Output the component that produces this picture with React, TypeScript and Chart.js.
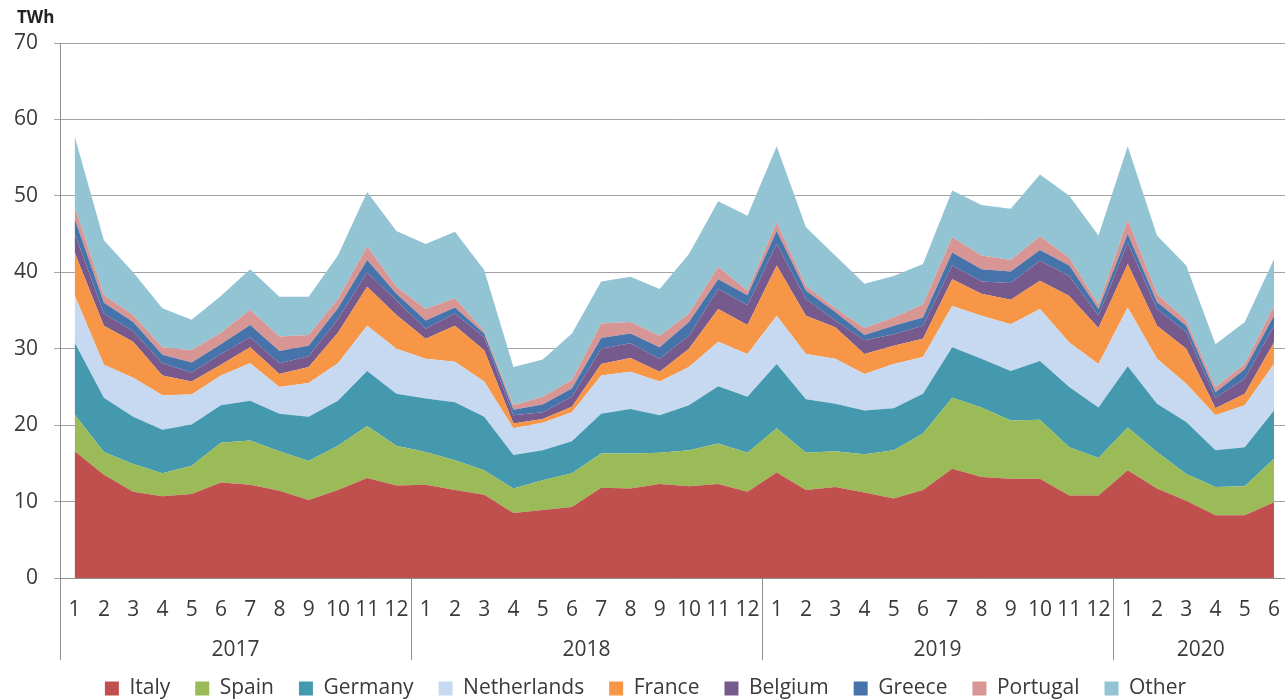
import React, { useEffect, useRef } from "react";
import { Chart, registerables } from "chart.js";

Chart.register(...registerables);

const monthLabels = [
  "1","2","3","4","5","6","7","8","9","10","11","12",
  "1","2","3","4","5","6","7","8","9","10","11","12",
  "1","2","3","4","5","6","7","8","9","10","11","12",
  "1","2","3","4","5","6",
];
const years = ["2017", "2018", "2019", "2020"];
const monthsPerYear = [12, 12, 12, 6];
const yTicks = [0, 10, 20, 30, 40, 50, 60, 70];
const unitLabel = "TWh";

const italy = [
  16.6, 13.5, 11.3, 10.7, 11.0, 12.5, 12.2, 11.4, 10.2, 11.5, 13.1, 12.1,
  12.2, 11.5, 10.9, 8.5, 8.9, 9.3, 11.8, 11.7, 12.3, 12.0, 12.3, 11.3,
  13.8, 11.5, 11.9, 11.2, 10.4, 11.5, 14.3, 13.2, 13.0, 13.0, 10.8, 10.8,
  14.1, 11.7, 10.1, 8.2, 8.2, 9.9,
];
const spain = [
  4.8, 3.0, 3.6, 3.0, 3.7, 5.2, 5.8, 5.2, 5.1, 5.8, 6.8, 5.2,
  4.3, 3.9, 3.2, 3.2, 3.9, 4.4, 4.5, 4.6, 4.1, 4.7, 5.3, 5.1,
  5.8, 4.9, 4.7, 5.0, 6.3, 7.4, 9.3, 9.1, 7.6, 7.7, 6.3, 4.9,
  5.6, 4.8, 3.5, 3.7, 3.8, 5.7,
];
const germany = [
  9.4, 7.1, 6.2, 5.7, 5.4, 4.9, 5.2, 4.9, 5.8, 5.9, 7.2, 6.8,
  7.0, 7.6, 7.0, 4.4, 3.9, 4.2, 5.2, 5.8, 4.9, 5.9, 7.5, 7.3,
  8.4, 7.0, 6.2, 5.7, 5.5, 5.2, 6.6, 6.4, 6.5, 7.7, 7.9, 6.6,
  8.0, 6.3, 6.8, 4.8, 5.1, 6.3,
];
const netherlands = [
  6.2, 4.3, 5.1, 4.5, 3.9, 3.9, 4.9, 3.5, 4.4, 4.9, 5.9, 5.9,
  5.2, 5.3, 4.6, 3.5, 3.6, 3.8, 5.0, 4.9, 4.4, 5.0, 5.8, 5.6,
  6.3, 5.9, 5.9, 4.8, 5.8, 4.8, 5.4, 5.6, 6.1, 6.8, 5.8, 5.7,
  7.7, 5.9, 5.0, 4.6, 5.5, 6.1,
];
const france = [
  5.6, 5.1, 4.7, 2.6, 1.7, 1.4, 2.1, 1.7, 2.1, 4.0, 5.1, 4.4,
  2.6, 4.7, 4.1, 0.6, 0.5, 0.7, 1.5, 1.8, 1.3, 2.4, 4.3, 3.8,
  6.6, 5.0, 4.1, 2.6, 2.4, 2.4, 3.5, 2.9, 3.2, 3.7, 6.1, 4.7,
  5.7, 4.3, 4.6, 0.9, 1.5, 2.8,
];
const belgium = [
  2.5, 1.6, 1.4, 1.6, 1.2, 1.4, 1.3, 1.4, 1.4, 1.8, 1.9, 1.9,
  1.3, 1.6, 1.7, 1.1, 0.9, 1.3, 2.0, 1.9, 1.7, 1.7, 2.6, 2.6,
  2.8, 2.2, 0.9, 1.8, 1.5, 1.7, 1.8, 1.6, 2.2, 2.6, 2.6, 1.6,
  2.8, 2.2, 2.2, 1.4, 2.0, 2.2,
];
const greece = [
  1.9, 1.4, 1.2, 1.1, 1.3, 1.3, 1.6, 1.6, 1.4, 1.4, 1.6, 0.9,
  1.1, 0.8, 0.5, 0.7, 1.0, 1.1, 1.4, 1.3, 1.5, 1.8, 1.3, 1.3,
  1.7, 1.1, 1.1, 0.7, 1.1, 1.1, 1.7, 1.6, 1.5, 1.4, 1.4, 0.9,
  1.1, 0.9, 0.8, 0.7, 1.2, 1.3,
];
const portugal = [
  1.6, 1.0, 0.9, 1.0, 1.6, 1.5, 2.0, 1.9, 1.4, 1.2, 1.8, 0.9,
  1.5, 1.2, 0.3, 0.6, 1.0, 1.1, 1.9, 1.5, 1.5, 1.1, 1.6, 0.6,
  1.1, 0.6, 0.5, 0.9, 1.1, 1.7, 2.0, 1.8, 1.5, 1.8, 1.0, 0.6,
  1.9, 1.1, 0.7, 0.7, 0.7, 1.3,
];
const other = [
  9.2, 7.2, 5.6, 5.1, 4.0, 4.8, 5.3, 5.2, 5.0, 5.7, 7.1, 7.3,
  8.5, 8.7, 8.0, 5.0, 4.9, 6.1, 5.5, 5.9, 6.1, 7.8, 8.6, 9.8,
  10.0, 7.7, 6.9, 5.8, 5.4, 5.3, 6.1, 6.6, 6.7, 8.1, 8.1, 9.0,
  9.6, 7.6, 7.2, 5.6, 5.5, 6.1,
];

const seriesNames = ["Italy", "Spain", "Germany", "Netherlands", "France", "Belgium", "Greece", "Portugal", "Other"];
const seriesValues = [italy, spain, germany, netherlands, france, belgium, greece, portugal, other];
const seriesColors = ["#C0504D", "#9BBB59", "#4499AF", "#C6D9F0", "#F79646", "#765A8E", "#4673A9", "#D79593", "#93C4D4"];

const VIEW_W = 1285;
const W = 1291;
const H = 709;
const PLOT_TOP = 43;
const PLOT_BOTTOM = 578;
const Y_AXIS_W = 60;
const FONT = "'Open Sans', 'DejaVu Sans', sans-serif";
const TEXT = "#3a3a3a";
const GRID = "#a3a3a3";
const AXIS = "#8e8e8e";

const extrasPlugin = {
  id: "extras",
  afterDraw(chart: any) {
    const { ctx, chartArea } = chart;
    const x = chart.scales.x;
    const step = x.getPixelForValue(1) - x.getPixelForValue(0);
    ctx.save();
    ctx.strokeStyle = AXIS;
    ctx.lineWidth = 1;
    ctx.fillStyle = TEXT;
    ctx.font = `21px ${FONT}`;
    ctx.textAlign = "center";
    ctx.textBaseline = "middle";
    let start = 0;
    years.forEach((yr, k) => {
      const left = x.getPixelForValue(start) - step / 2;
      const right = x.getPixelForValue(start + monthsPerYear[k] - 1) + step / 2;
      const px = Math.round(left) + 0.5;
      ctx.beginPath();
      ctx.moveTo(px, chartArea.bottom);
      ctx.lineTo(px, chartArea.bottom + 82);
      ctx.stroke();
      ctx.fillText(yr, (left + right) / 2, chartArea.bottom + 72);
      start += monthsPerYear[k];
    });
    ctx.font = `bold 17px ${FONT}`;
    ctx.textAlign = "left";
    ctx.fillStyle = "#222";
    ctx.fillText(unitLabel, 17, 18);
    ctx.restore();
  },
};

export default function App() {
  const ref = useRef<HTMLCanvasElement | null>(null);
  useEffect(() => {
    if (!ref.current) return;
    const datasets = seriesNames.map((name, i) => ({
      label: name,
      data: seriesValues[i],
      backgroundColor: seriesColors[i],
      borderColor: seriesColors[i],
      borderWidth: 0,
      pointRadius: 0,
      pointHoverRadius: 0,
      tension: 0,
      fill: i === 0 ? "origin" : "-1",
    }));
    const chart = new Chart(ref.current, {
      type: "line",
      data: { labels: monthLabels, datasets },
      plugins: [extrasPlugin],
      options: {
        responsive: false,
        animation: false,
        devicePixelRatio: 1,
        layout: { padding: { top: PLOT_TOP, left: 0, right: 0, bottom: 0 } },
        plugins: {
          tooltip: { enabled: false },
          title: { display: false },
          legend: {
            position: "bottom",
            labels: {
              boxWidth: 14,
              boxHeight: 14,
              padding: 25,
              color: TEXT,
              font: { family: FONT, size: 21 },
            },
          },
        },
        scales: {
          x: {
            type: "category",
            offset: true,
            grid: { display: false },
            border: { display: true, color: AXIS, width: 1 },
            ticks: {
              autoSkip: false,
              maxRotation: 0,
              minRotation: 0,
              padding: 11,
              color: TEXT,
              font: { family: FONT, size: 21 },
            },
            afterFit: (s: any) => {
              const lh = s.chart.legend ? s.chart.legend.height : 0;
              s.height = H - PLOT_BOTTOM - lh;
            },
          },
          y: {
            stacked: true,
            min: 0,
            max: 70,
            afterBuildTicks: (s: any) => {
              s.ticks = yTicks.map((v) => ({ value: v }));
            },
            grid: { color: GRID, lineWidth: 1, drawTicks: true, tickLength: 6 },
            border: { display: true, color: AXIS, width: 1 },
            ticks: {
              padding: 16,
              color: TEXT,
              font: { family: FONT, size: 21 },
            },
            afterFit: (s: any) => {
              s.width = Y_AXIS_W;
            },
          },
        },
      },
    });
    return () => chart.destroy();
  }, []);
  return (
    <div style={{ position: "fixed", left: 0, top: 0, width: VIEW_W, height: 700, overflow: "hidden", background: "#fff" }}>
      <canvas ref={ref} width={W} height={H} style={{ display: "block", width: W, height: H }} />
    </div>
  );
}
